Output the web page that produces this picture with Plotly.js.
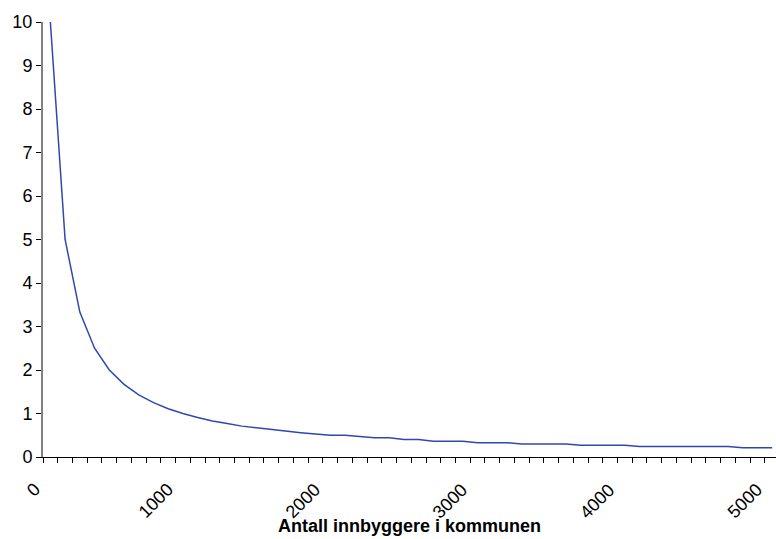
<!DOCTYPE html>
<html>
<head>
<meta charset="utf-8">
<script src="https://cdn.plot.ly/plotly-3.0.1.min.js"></script>
<style>html,body{margin:0;padding:0;background:#fff;}#chart{width:776px;height:539px;}</style>
</head>
<body>
<div id="chart"></div>
<script>
// Number of inhabitants in the municipality (category values)
const innbyggere = [100,200,300,400,500,600,700,800,900,1000,
  1100,1200,1300,1400,1500,1600,1700,1800,1900,2000,
  2100,2200,2300,2400,2500,2600,2700,2800,2900,3000,
  3100,3200,3300,3400,3500,3600,3700,3800,3900,4000,
  4100,4200,4300,4400,4500,4600,4700,4800,4900,5000];
// Values
const verdier = [10,5,3.33,2.5,2,1.67,1.43,1.25,1.11,1.0,
  0.91,0.83,0.77,0.71,0.67,0.63,0.59,0.56,0.53,0.50,
  0.50,0.47,0.44,0.44,0.40,0.40,0.36,0.36,0.36,0.33,
  0.33,0.33,0.30,0.30,0.30,0.30,0.27,0.27,0.27,0.27,
  0.24,0.24,0.24,0.24,0.24,0.24,0.24,0.21,0.21,0.21];
// X tick labels and the category index whose left boundary carries them
const xTickLabels = ['0','1000','2000','3000','4000','5000'];
const xTickIndex = [0, 9, 19, 29, 39, 49];
const yTicks = [0,1,2,3,4,5,6,7,8,9,10];
const xTitle = 'Antall innbyggere i kommunen';

// Tick marks at boundaries between categories
const tickPos = innbyggere.map(v => v - 50);

const font = 'Arial, "Liberation Sans", sans-serif';
const annotations = xTickLabels.map((t, i) => ({
  text: t, x: tickPos[xTickIndex[i]], xref: 'x', yref: 'paper', y: -0.046,
  xanchor: 'right', yanchor: 'top', textangle: -45, showarrow: false, xshift: 4,
  font: {family: font, size: 18, color: '#000'}
}));
annotations.push({
  text: '<b>' + xTitle + '</b>', xref: 'paper', yref: 'paper', x: 0.5, y: -0.158,
  xanchor: 'center', yanchor: 'middle', showarrow: false,
  font: {family: font, size: 18, color: '#000'}
});

Plotly.newPlot('chart', [{
  x: innbyggere, y: verdier, type: 'scatter', mode: 'lines',
  line: {color: '#2f48b0', width: 1.5}, hoverinfo: 'skip'
}], {
  width: 776, height: 539,
  margin: {l: 43, r: 0, t: 22, b: 82, pad: 0},
  paper_bgcolor: '#fff', plot_bgcolor: '#fff',
  showlegend: false,
  font: {family: font, size: 18, color: '#000'},
  xaxis: {
    range: [50, 5026], tickmode: 'array', tickvals: tickPos, showticklabels: false,
    ticks: 'outside', ticklen: 5, tickwidth: 1, tickcolor: '#000',
    showline: true, linecolor: '#000', linewidth: 1, showgrid: false, zeroline: false,
    automargin: false
  },
  yaxis: {
    range: [0, 10], tickmode: 'array', tickvals: yTicks, ticktext: yTicks.map(String),
    ticks: 'outside', ticklen: 5, tickwidth: 1, tickcolor: '#000',
    showline: true, linecolor: '#808080', linewidth: 2, showgrid: false, zeroline: false,
    tickfont: {family: font, size: 18, color: '#000'}, automargin: false
  },
  annotations: annotations
}, {staticPlot: true});
</script>
</body>
</html>
